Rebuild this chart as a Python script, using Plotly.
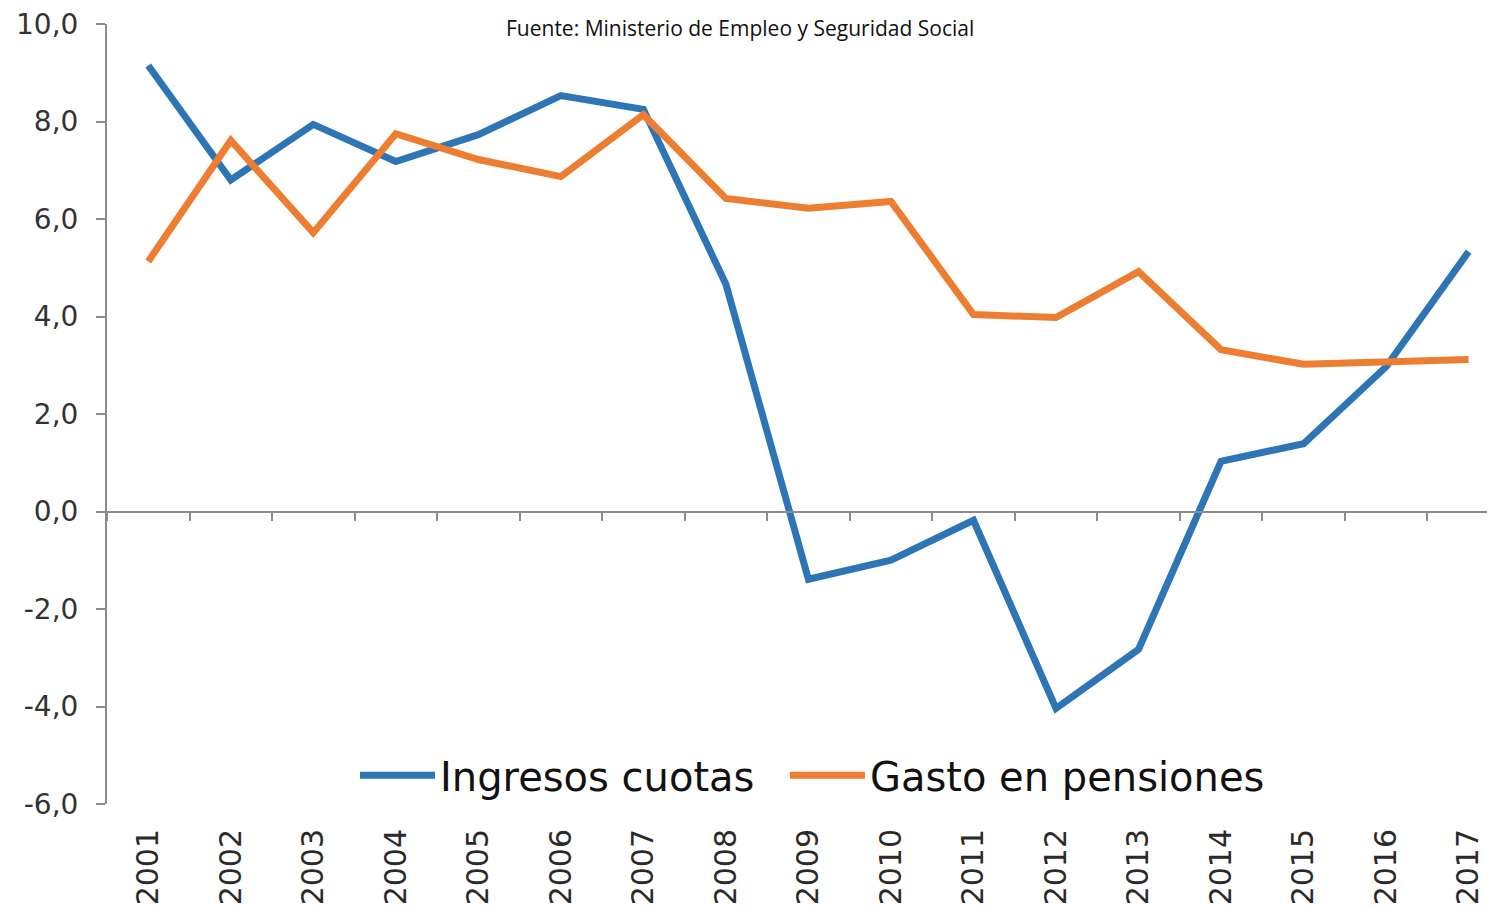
import plotly.graph_objects as go

years = [str(y) for y in range(2001, 2018)]
ingresos_cuotas = [9.15, 6.8, 7.94, 7.18, 7.73, 8.53, 8.25, 4.66, -1.39, -1.0, -0.18,
                   -4.04, -2.83, 1.03, 1.39, 2.97, 5.33]
gasto_pensiones = [5.13, 7.61, 5.72, 7.75, 7.22, 6.87, 8.14, 6.42, 6.22, 6.36, 4.04,
                   3.98, 4.92, 3.32, 3.02, 3.08, 3.12]
series_names = ["Ingresos cuotas", "Gasto en pensiones"]
y_ticks = [-6, -4, -2, 0, 2, 4, 6, 8, 10]
y_ticktext = [f"{v:.1f}".replace(".", ",") for v in y_ticks]

BLUE = "#2E75B6"
ORANGE = "#ED7D31"
AXIS = "#8C8C8C"
FONT = "DejaVu Sans, sans-serif"
NBSP_GAP = "\u00a0\u00a0"  # extra spacing between legend entries

fig = go.Figure()
fig.add_trace(go.Scatter(x=years, y=ingresos_cuotas, mode="lines",
                         name=series_names[0] + NBSP_GAP,
                         line=dict(color=BLUE, width=7)))
fig.add_trace(go.Scatter(x=years, y=gasto_pensiones, mode="lines",
                         name=series_names[1],
                         line=dict(color=ORANGE, width=7)))
# helper trace so the category axis drawn at y = 0 is rendered
fig.add_trace(go.Scatter(x=years, y=[None] * len(years), xaxis="x2", yaxis="y",
                         showlegend=False, hoverinfo="skip", mode="lines"))

n = len(years)
xrange = [-0.5, n - 0.5 - 0.18]

fig.update_layout(
    width=1487, height=901,
    margin=dict(l=99, r=0, t=16, b=105),
    paper_bgcolor="white", plot_bgcolor="white",
    font=dict(family=FONT, color="#333333"),
    xaxis=dict(type="category", categoryorder="array", categoryarray=years,
               range=xrange, showline=False, showgrid=False, zeroline=False,
               ticks="", tickangle=-90, tickfont=dict(size=30, color="#2a2a2a"),
               ticklabelstandoff=18, ticklabeloverflow="allow"),
    xaxis2=dict(type="category", categoryorder="array", categoryarray=years,
                overlaying="x", anchor="free", position=0.375, matches="x",
                showticklabels=False, showline=True, linecolor=AXIS, linewidth=2,
                ticks="outside", tickson="boundaries", ticklen=8, tickwidth=2,
                tickcolor=AXIS, showgrid=False, zeroline=False),
    yaxis=dict(range=[-6, 10], tickvals=y_ticks, ticktext=y_ticktext,
               showline=True, linecolor=AXIS, linewidth=2, ticks="outside",
               ticklen=9, tickwidth=2, tickcolor=AXIS, showgrid=False,
               zeroline=False, tickfont=dict(size=28, color="#333333"),
               ticklabelstandoff=12, ticklabeloverflow="allow"),
    legend=dict(orientation="h", x=0.5083, xanchor="center", y=0.037, yanchor="middle",
                font=dict(size=40, color="#111111", family=FONT), itemwidth=75,
                bgcolor="rgba(0,0,0,0)", traceorder="normal"),
    annotations=[dict(text="Fuente: Ministerio de Empleo y Seguridad Social",
                      xref="paper", yref="paper", x=(732 - 99) / 1388, y=1.0,
                      xanchor="center", yanchor="middle", showarrow=False,
                      yshift=-4,
                      font=dict(size=21, color="#111111",
                                family="Liberation Sans Narrow, Open Sans, sans-serif"))],
)

fig.write_html("out.html")
